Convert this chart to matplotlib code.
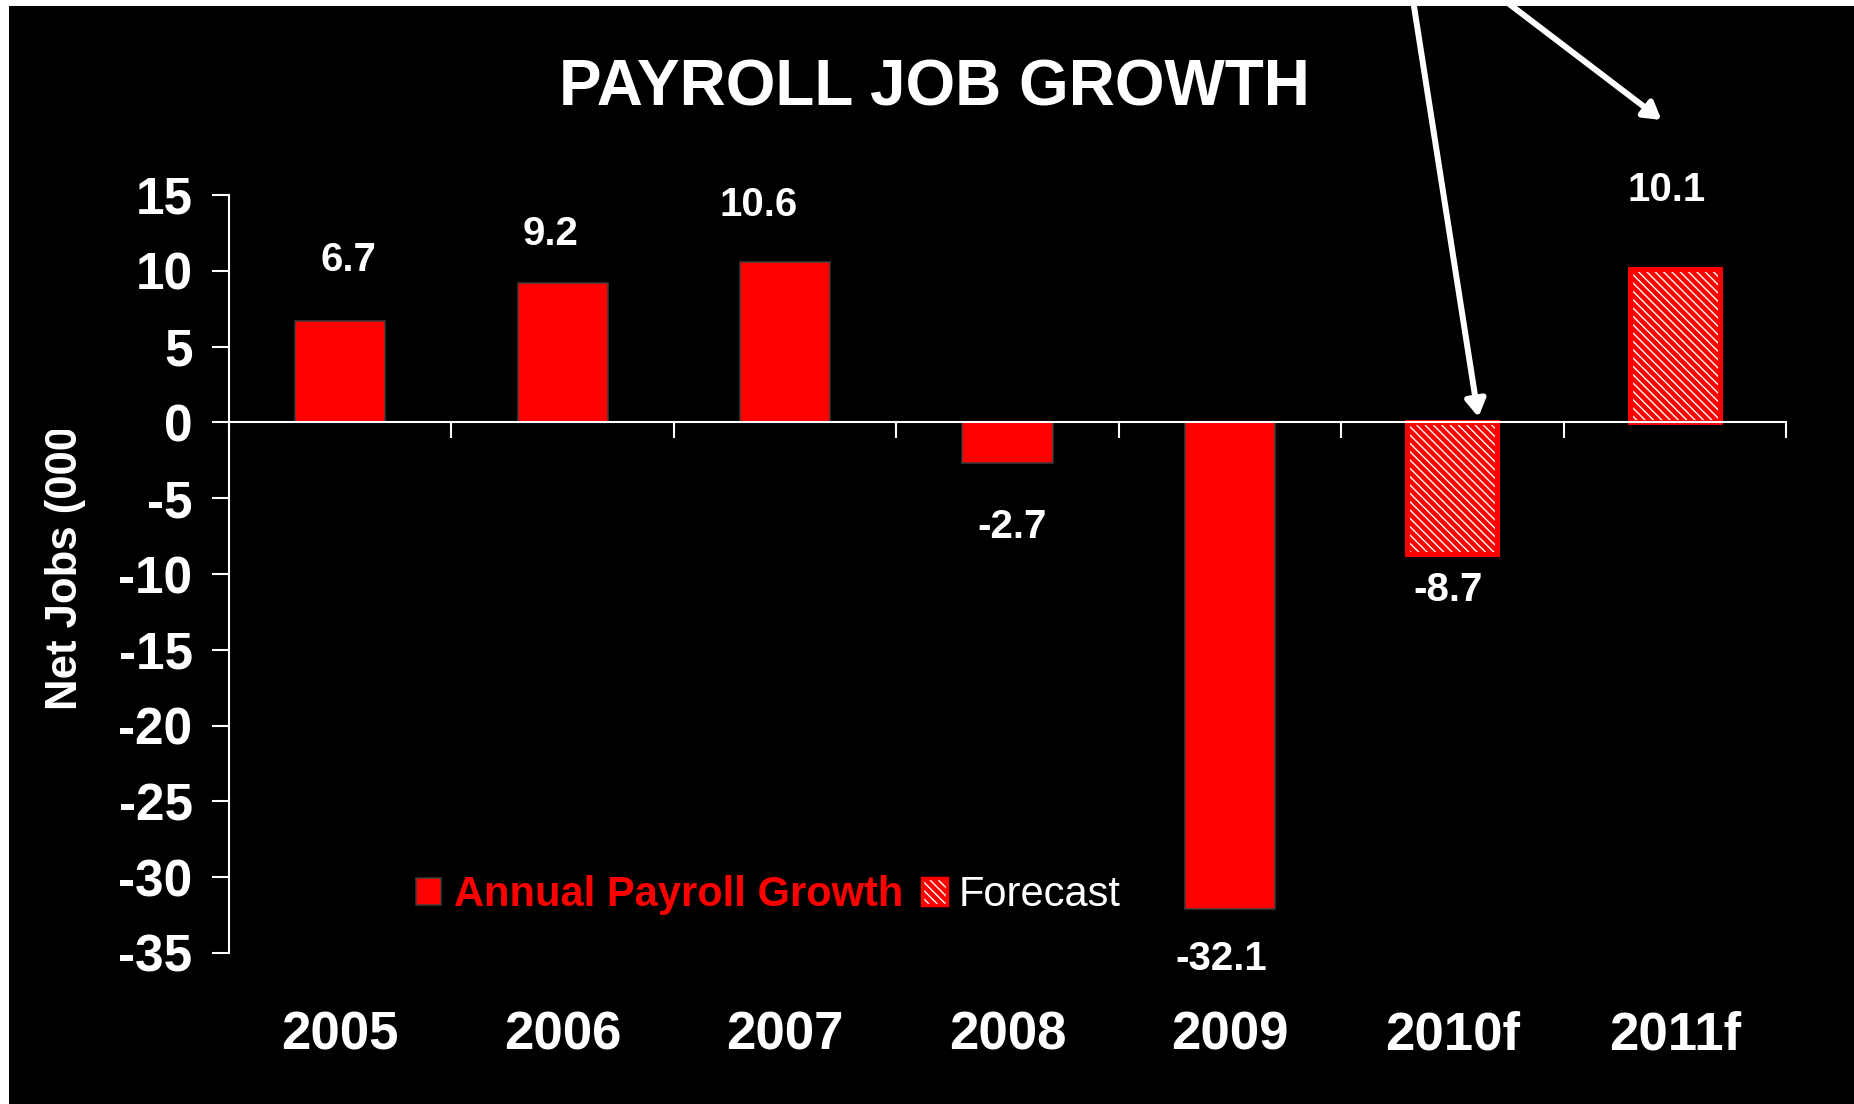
import matplotlib
matplotlib.use("Agg")
import matplotlib.pyplot as plt
from matplotlib.patches import Patch, Rectangle
from matplotlib.legend_handler import HandlerTuple
from matplotlib.transforms import Bbox, TransformedBbox

# ---- data -------------------------------------------------------------
years = ["2005", "2006", "2007", "2008", "2009", "2010f", "2011f"]
net_jobs = [6.7, 9.2, 10.6, -2.7, -32.1, -8.7, 10.1]
is_forecast = [False, False, False, False, False, True, True]
y_ticks = [15, 10, 5, 0, -5, -10, -15, -20, -25, -30, -35]

# label offsets (points) for the value annotations
label_dx = [6, -9, -19, 3, -6, -3, -6]
label_dy = [44, 35, 41, -46, -36, -26, 57]

plt.rcParams["font.family"] = ["Liberation Sans", "DejaVu Sans"]
plt.rcParams["axes.unicode_minus"] = False
plt.rcParams["hatch.linewidth"] = 1.0

W, H = 1854, 1104
fig = plt.figure(figsize=(W / 100, H / 100), dpi=100, facecolor="white")

# black canvas leaving thin white strips on the top and left edges
fig.add_artist(Rectangle((9 / W, 0), 1 - 9 / W, (H - 6) / H,
                         transform=fig.transFigure, facecolor="black",
                         edgecolor="none", zorder=-10))

ax = fig.add_axes([229 / W, (H - 953) / H, (1786 - 229) / W, (953 - 195) / H])
ax.set_facecolor("none")

RED = "#ff0000"
xpos = [i + 0.5 for i in range(len(years))]
bar_w = 0.405

for x, v, f in zip(xpos, net_jobs, is_forecast):
    if f:
        ax.bar(x, v, width=bar_w, color=RED, edgecolor="white", hatch="\\\\\\\\",
               linewidth=0, zorder=3)
        ax.bar(x, v, width=bar_w, facecolor="none", edgecolor=RED,
               linewidth=3.6, zorder=4)
    else:
        ax.bar(x, v, width=bar_w, color=RED, edgecolor="#3c3c3c",
               linewidth=1.1, zorder=3)

for x, v, dx, dy in zip(xpos, net_jobs, label_dx, label_dy):
    ax.annotate(f"{v:.1f}", xy=(x, v), xytext=(dx, dy), textcoords="offset points",
                ha="center", va="center", color="white", fontsize=29,
                fontweight="bold", annotation_clip=False)

ax.set_xlim(0, len(years))
ax.set_ylim(-35, 15)

for s in ("top", "right"):
    ax.spines[s].set_visible(False)
ax.spines["bottom"].set_position(("data", 0))
for s in ("left", "bottom"):
    ax.spines[s].set_color("white")
    ax.spines[s].set_linewidth(1.5)
    ax.spines[s].set_zorder(5)

ax.set_yticks(y_ticks)
ax.set_yticklabels([str(t) for t in y_ticks])
ax.tick_params(axis="y", colors="white", length=12.2, width=1.5, pad=14,
               labelsize=37)
for lbl in ax.get_yticklabels():
    lbl.set_fontweight("bold")

ax.set_xticks(range(len(years) + 1))
ax.tick_params(axis="x", colors="white", length=11.5, width=1.5,
               labelbottom=False, direction="out")

for x, yr in zip(xpos, years):
    ax.text(x, -(1036 - 953) / (953 - 195), yr, transform=ax.get_xaxis_transform(),
            ha="center", va="center", color="white", fontsize=38, fontweight="bold")

# legend
solid = Patch(facecolor=RED, edgecolor="#3c3c3c", linewidth=1.1)
hatched = (Patch(facecolor=RED, edgecolor="white", hatch="\\\\\\\\", linewidth=0),
           Patch(facecolor="none", edgecolor=RED, linewidth=2.5))
leg = ax.legend([solid, hatched], ["Annual Payroll Growth", "Forecast"],
                handler_map={tuple: HandlerTuple(ndivide=1, pad=0)},
                ncol=2, frameon=False, fontsize=30, loc="center left",
                bbox_to_anchor=(416 / W, (H - 895) / H),
                bbox_transform=fig.transFigure, borderpad=0, borderaxespad=0,
                handlelength=0.6, handleheight=0.6, handletextpad=0.3,
                columnspacing=0.45)
leg.get_texts()[0].set_color(RED)
leg.get_texts()[0].set_fontweight("bold")
leg.get_texts()[1].set_color("white")

# y-axis title, cut off at the top
ylab = fig.text(66 / W, (H - 710) / H, "Net Jobs (000's)", rotation=90,
                ha="center", va="bottom", color="white", fontsize=31.5,
                fontweight="bold")
ylab.set_clip_box(TransformedBbox(Bbox.from_extents(0, 0, 1, (H - 430) / H),
                                  fig.transFigure))
ylab.set_clip_on(True)

fig.text(934 / W, (H - 88) / H, "PAYROLL JOB GROWTH", ha="center", va="center",
         color="white", fontsize=46, fontweight="bold")

# call-out arrows pointing at the forecast years
arrow_props = dict(arrowstyle="-|>,head_length=0.5,head_width=0.3", color="white",
                   lw=4.3, mutation_scale=20, shrinkA=0, shrinkB=0)
ax.annotate("", xy=(5.617, 0.35), xycoords="data",
            xytext=(1413, H), textcoords="figure pixels",
            arrowprops=arrow_props, annotation_clip=False)
ax.annotate("", xy=(6.44, 19.95), xycoords="data",
            xytext=(1504, H), textcoords="figure pixels",
            arrowprops=arrow_props, annotation_clip=False)

fig.savefig("out.png", dpi=100, facecolor=fig.get_facecolor())
